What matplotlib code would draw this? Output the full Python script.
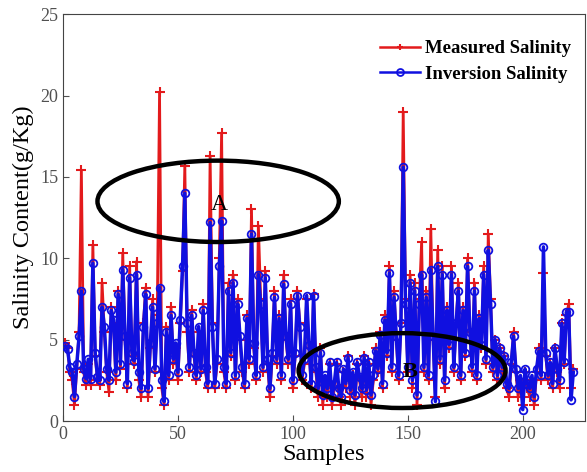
import matplotlib
matplotlib.use("Agg")
import matplotlib.pyplot as plt
from matplotlib.patches import Ellipse
import numpy as np

measured = [
    4.8, 4.5, 3.0, 2.5, 1.0, 3.2, 5.5, 15.4, 3.0, 2.2,
    3.5, 2.2, 10.8, 4.0, 2.5, 2.2, 8.5, 5.5, 3.0, 1.8,
    7.0, 6.0, 2.5, 8.0, 3.2, 10.3, 5.0, 2.0, 9.5, 4.0,
    3.5, 9.8, 2.5, 1.5, 6.0, 8.2, 1.5, 4.5, 7.5, 3.0,
    6.5, 20.2, 2.0, 1.0, 5.8, 2.5, 7.0, 3.5, 4.5, 2.5,
    6.0, 9.2, 15.7, 5.5, 3.0, 6.8, 4.0, 2.5, 5.5, 3.0,
    7.2, 3.0, 2.0, 16.3, 6.0, 2.0, 3.5, 10.0, 17.7, 3.0,
    2.0, 8.5, 4.0, 9.0, 2.5, 7.5, 5.0, 3.0, 2.0, 6.5,
    3.5, 13.0, 4.5, 2.5, 12.0, 7.5, 3.0, 9.2, 3.5, 1.5,
    4.0, 8.0, 3.5, 6.5, 2.5, 9.0, 5.0, 3.5, 7.5, 2.0,
    4.0, 8.0, 6.0, 2.5, 3.5, 7.5, 4.5, 2.0, 7.8, 3.0,
    1.5, 4.5, 1.0, 2.5, 1.5, 3.5, 1.0, 2.0, 3.5, 1.5,
    1.0, 3.0, 2.0, 4.0, 1.5, 2.8, 1.0, 3.5, 2.5, 1.5,
    4.0, 1.5, 3.5, 1.0, 2.5, 4.5, 3.0, 5.5, 2.0, 6.5,
    4.0, 9.5, 3.0, 8.0, 5.0, 2.5, 6.0, 19.0, 7.5, 3.0,
    9.0, 2.0, 8.5, 1.0, 7.5, 11.0, 3.0, 8.0, 2.5, 11.8,
    5.0, 1.5, 10.5, 3.5, 9.5, 2.0, 7.0, 4.5, 9.5, 3.0,
    6.0, 8.5, 2.5, 7.0, 4.0, 10.0, 5.5, 3.0, 8.5, 2.5,
    6.5, 4.5, 9.5, 3.5, 11.5, 7.5, 3.0, 5.0, 2.5, 4.5,
    3.0, 4.0, 2.0, 1.5, 3.5, 5.5, 3.0, 1.5, 2.5, 1.0,
    3.0, 2.0, 1.5, 2.5, 1.0, 3.0, 4.5, 2.5, 9.1, 4.0,
    2.5, 3.5, 2.0, 4.5, 3.0, 2.0, 6.0, 3.5, 6.5, 7.2,
    2.0, 3.2,
]

inversion = [
    4.6, 4.4, 3.3, 3.0, 1.5, 3.5, 5.2, 8.0, 3.2, 2.6,
    3.8, 2.6, 9.7, 4.2, 2.7, 2.5, 7.0, 5.8, 3.2, 2.5,
    6.8, 6.2, 3.0, 7.8, 3.5, 9.3, 5.2, 2.3, 8.8, 4.2,
    3.7, 9.0, 3.0, 2.0, 5.8, 7.8, 2.0, 4.8, 7.0, 3.2,
    6.0, 8.2, 2.5, 1.2, 5.5, 2.8, 6.5, 3.8, 4.8, 3.0,
    6.2, 9.5, 14.0, 6.0, 3.3, 6.5, 4.2, 2.8, 5.8, 3.2,
    6.8, 3.3, 2.3, 12.2, 5.8, 2.3, 3.8, 9.5, 12.3, 3.3,
    2.3, 8.0, 4.2, 8.5, 2.8, 7.2, 5.2, 3.3, 2.3, 6.3,
    3.8, 11.5, 4.8, 2.8, 9.0, 7.2, 3.3, 8.8, 3.8, 2.0,
    4.2, 7.6, 3.8, 6.3, 2.8, 8.4, 5.2, 3.8, 7.2, 2.5,
    4.2, 7.7, 5.8, 2.8, 3.8, 7.7, 4.7, 2.3, 7.7, 3.3,
    2.0, 4.2, 1.6, 2.8, 2.0, 3.6, 1.5, 2.3, 3.6, 2.0,
    1.5, 3.2, 2.3, 3.9, 1.9, 3.0, 1.6, 3.6, 2.7, 2.0,
    3.9, 1.9, 3.6, 1.6, 2.8, 4.3, 3.2, 5.3, 2.3, 6.2,
    4.2, 9.1, 3.3, 7.6, 5.2, 2.8, 6.0, 15.6, 7.2, 3.3,
    8.5, 2.5, 8.0, 1.6, 7.2, 9.0, 3.3, 7.6, 2.8, 9.3,
    5.2, 1.2, 9.5, 3.8, 9.0, 2.5, 6.8, 4.7, 9.0, 3.3,
    6.0, 8.0, 2.8, 6.8, 4.2, 9.5, 5.5, 3.3, 8.0, 2.8,
    6.3, 4.7, 9.0, 3.8, 10.5, 7.2, 3.3, 5.0, 2.8, 4.5,
    3.3, 4.0, 2.3, 2.0, 3.6, 5.2, 3.2, 2.0, 2.8, 0.7,
    3.2, 2.3, 2.0, 2.8, 1.5, 3.2, 4.3, 2.8, 10.7, 4.2,
    2.8, 3.6, 2.3, 4.5, 3.2, 2.5, 6.0, 3.6, 6.7, 6.7,
    1.3, 3.0,
]

samples = np.arange(1, len(measured) + 1)
x_ticks = [0, 50, 100, 150, 200]
y_ticks = [0, 5, 10, 15, 20, 25]

plt.rcParams['font.family'] = ['Liberation Serif', 'DejaVu Serif']

fig = plt.figure(figsize=(5.87, 4.72), dpi=100)
ax = fig.add_axes([0.1073, 0.108, 0.889, 0.862])

ax.plot(samples, measured, color='#e31a1c', lw=2.0, marker='+', ms=7, mew=1.5,
        label='Measured Salinity', zorder=2)
ax.plot(samples, inversion, color='#1010e0', lw=2.5, marker='o', ms=5.5, mew=1.3,
        mfc='none', label='Inversion Salinity', zorder=3)

ax.add_patch(Ellipse((67.5, 13.5), 105, 5.0, fill=False, ec='black', lw=3.2, zorder=4))
ax.add_patch(Ellipse((147.5, 3.1), 90, 4.6, fill=False, ec='black', lw=3.2, zorder=4))
ax.text(68, 13.3, 'A', fontsize=17, ha='center', va='center', color='black', zorder=5)
ax.text(151, 3.0, 'B', fontsize=16, ha='center', va='center', color='black',
        fontweight='bold', zorder=5)

ax.set_xlim(0, 227)
ax.set_ylim(0, 25)
ax.set_xticks(x_ticks)
ax.set_yticks(y_ticks)
ax.tick_params(direction='in', labelsize=13, colors='#505050', length=4)
for s in ax.spines.values():
    s.set_color('#444444')
    s.set_linewidth(0.8)

ax.set_xlabel('Samples', fontsize=17.5, labelpad=1)
ax.set_ylabel('Salinity Content(g/Kg)', fontsize=17.5, labelpad=4)

handles, labels = ax.get_legend_handles_labels()
leg = ax.legend(handles, labels, loc='upper right', bbox_to_anchor=(1.005, 0.978),
                frameon=False, prop={'weight': 'bold', 'size': 13.5},
                handlelength=2.1, handletextpad=0.25, labelspacing=0.45)
for h in leg.get_lines():
    h.set_linewidth(1.8)
    h.set_markersize(5)

fig.savefig('out.png', dpi=100)
